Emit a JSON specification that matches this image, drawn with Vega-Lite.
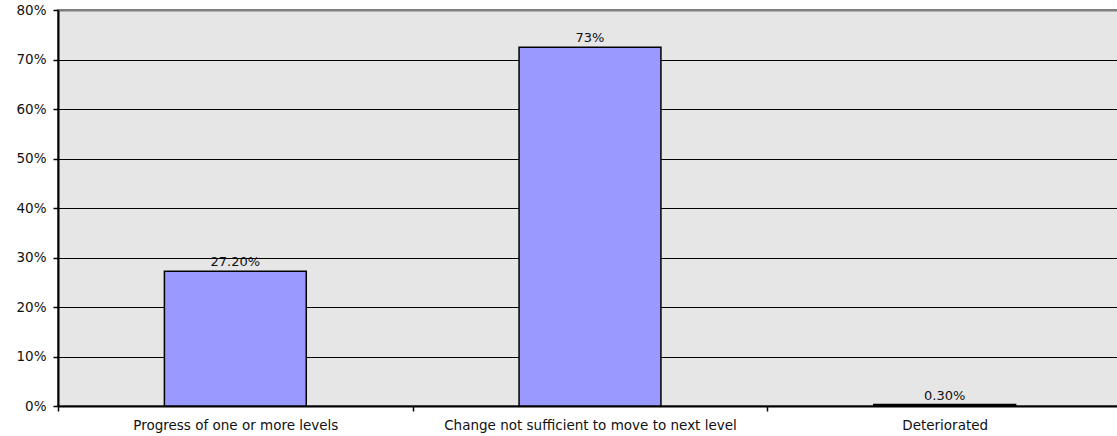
{
  "$schema": "https://vega.github.io/schema/vega-lite/v6.json",
  "width": 1064,
  "height": 396,
  "autosize": {"type": "none"},
  "padding": {"left": 58, "top": 10, "right": 0, "bottom": 30},
  "background": "white",
  "config": {
    "font": "DejaVu Sans",
    "view": {"fill": "#E6E6E6", "stroke": "#808080", "strokeWidth": 2}
  },
  "data": {
    "values": [
      {"outcome": "Progress of one or more levels", "pct": 27.2, "label": "27.20%"},
      {"outcome": "Change not sufficient to move to next level", "pct": 72.5, "label": "73%"},
      {"outcome": "Deteriorated", "pct": 0.3, "label": "0.30%"}
    ]
  },
  "encoding": {
    "x": {
      "field": "outcome",
      "type": "nominal",
      "sort": null,
      "title": null,
      "scale": {"paddingInner": 0, "paddingOuter": 0},
      "axis": {
        "labelAngle": 0,
        "labelFontSize": 13.5,
        "labelColor": "#111111",
        "labelPadding": 7,
        "labelLimit": 0,
        "tickBand": "extent",
        "tickColor": "#000000",
        "tickSize": 5,
        "tickWidth": 1.5,
        "domainColor": "#000000",
        "domainWidth": 2
      }
    },
    "y": {
      "field": "pct",
      "type": "quantitative",
      "title": null,
      "scale": {"domain": [0, 80], "nice": false},
      "axis": {
        "values": [0, 10, 20, 30, 40, 50, 60, 70, 80],
        "labelExpr": "datum.value + '%'",
        "labelFontSize": 13.5,
        "labelColor": "#111111",
        "labelPadding": 7,
        "tickColor": "#000000",
        "tickSize": 5,
        "tickWidth": 1.5,
        "domainColor": "#000000",
        "domainWidth": 2,
        "grid": true,
        "gridColor": {"condition": {"test": "datum.value == 80", "value": "#808080"}, "value": "#000000"},
        "gridWidth": {"condition": {"test": "datum.value == 80", "value": 2}, "value": 1}
      }
    }
  },
  "layer": [
    {
      "mark": {"type": "bar", "width": {"band": 0.4}, "color": "#9999FF", "stroke": "#000000", "strokeWidth": 1.5}
    },
    {
      "mark": {"type": "text", "dy": -9, "fontSize": 13, "color": "#111111"},
      "encoding": {"text": {"field": "label"}}
    }
  ]
}
